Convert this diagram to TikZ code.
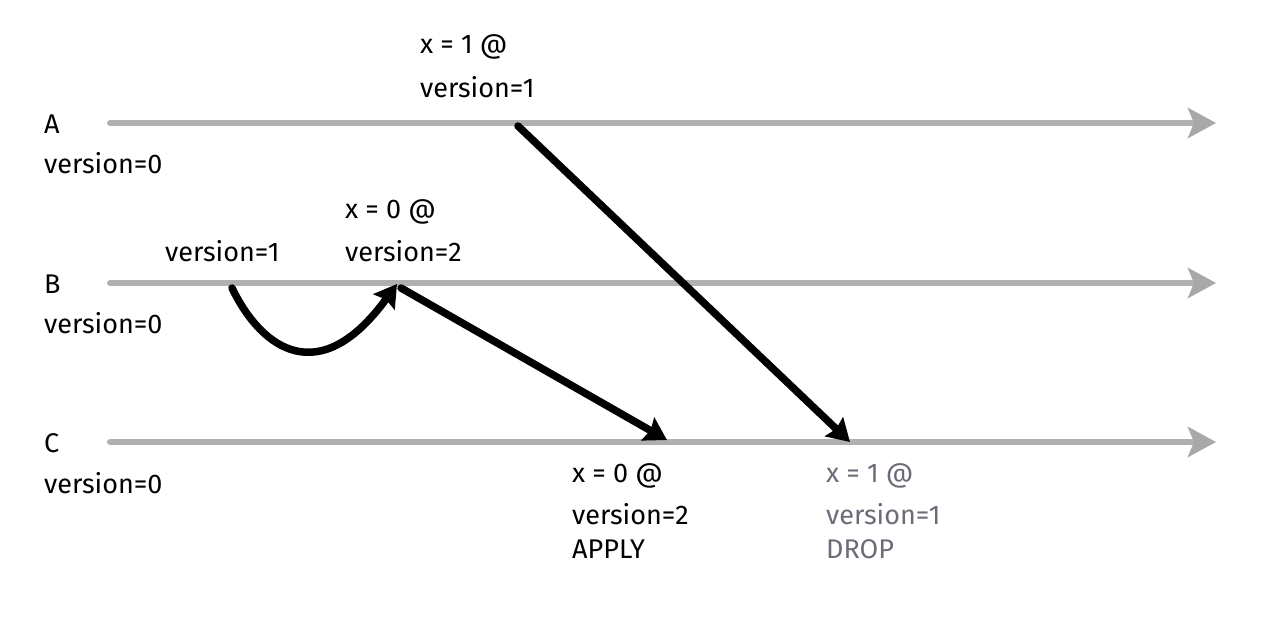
\documentclass[tikz,border=0pt]{standalone}
\usepackage{fontspec}
\setmainfont{Fira Sans}
\usetikzlibrary{arrows.meta}
\definecolor{lineg}{HTML}{B0B0B0}
\definecolor{tipg}{HTML}{A8A8A8}
\definecolor{txtg}{HTML}{6C6C78}
\begin{document}
\begin{tikzpicture}[x=1pt,y=-1pt,
  timeline/.style={line width=6pt,color=lineg,line cap=round,-{Stealth[length=28pt,width=30pt,inset=6pt,color=tipg]}},
  msg/.style={line width=7.5pt,line cap=round,-{Stealth[length=22pt,width=26pt,inset=3pt]}},
  lbl/.style={anchor=west,inner sep=0pt,font=\fontsize{27}{30}\selectfont},
  big/.style={anchor=west,inner sep=0pt,font=\fontsize{27}{30}\selectfont}]
\useasboundingbox (0,0) rectangle (1280,636);
% process labels
\node[big] (la) at (44,124) {A};
\node[lbl] (va) at (44,163) {version=0};
\node[big] (lb) at (44,284) {B};
\node[lbl] (vb) at (44,323) {version=0};
\node[big] (lc) at (44,443) {C};
\node[lbl] (vc) at (44,483) {version=0};
% timelines
\coordinate (a0) at (110,123); \coordinate (a1) at (1216,123);
\coordinate (b0) at (110,283); \coordinate (b1) at (1216,283);
\coordinate (c0) at (110,442); \coordinate (c1) at (1216,442);
\draw[timeline] (a0) -- (a1);
\draw[timeline] (b0) -- (b1);
\draw[timeline] (c0) -- (c1);
% event labels
\node[lbl] (xa1) at (420,47) {x = 1 @};
\node[lbl] (xa2) at (420,87) {version=1};
\node[lbl] (vb1) at (165,251) {version=1};
\node[lbl] (xb1) at (345,212) {x = 0 @};
\node[lbl] (xb2) at (345,251) {version=2};
\node[lbl] (xc1) at (572,476) {x = 0 @};
\node[lbl] (xc2) at (572,514) {version=2};
\node[lbl] (xc3) at (572,549) {APPLY};
\node[lbl,text=txtg] (xd1) at (826,476) {x = 1 @};
\node[lbl,text=txtg] (xd2) at (826,514) {version=1};
\node[lbl,text=txtg] (xd3) at (826,549) {DROP};
% messages
\coordinate (sa) at (518,126); \coordinate (ea) at (850,442);
\coordinate (sb) at (401,288); \coordinate (eb) at (667,440);
\coordinate (sc) at (232,288); \coordinate (ec) at (397,284);
\draw[msg] (sa) -- (ea);
\draw[msg] (sb) -- (eb);
\draw[msg] (sc) .. controls (262,350) and (320,390) .. (ec);
\end{tikzpicture}
\end{document}
